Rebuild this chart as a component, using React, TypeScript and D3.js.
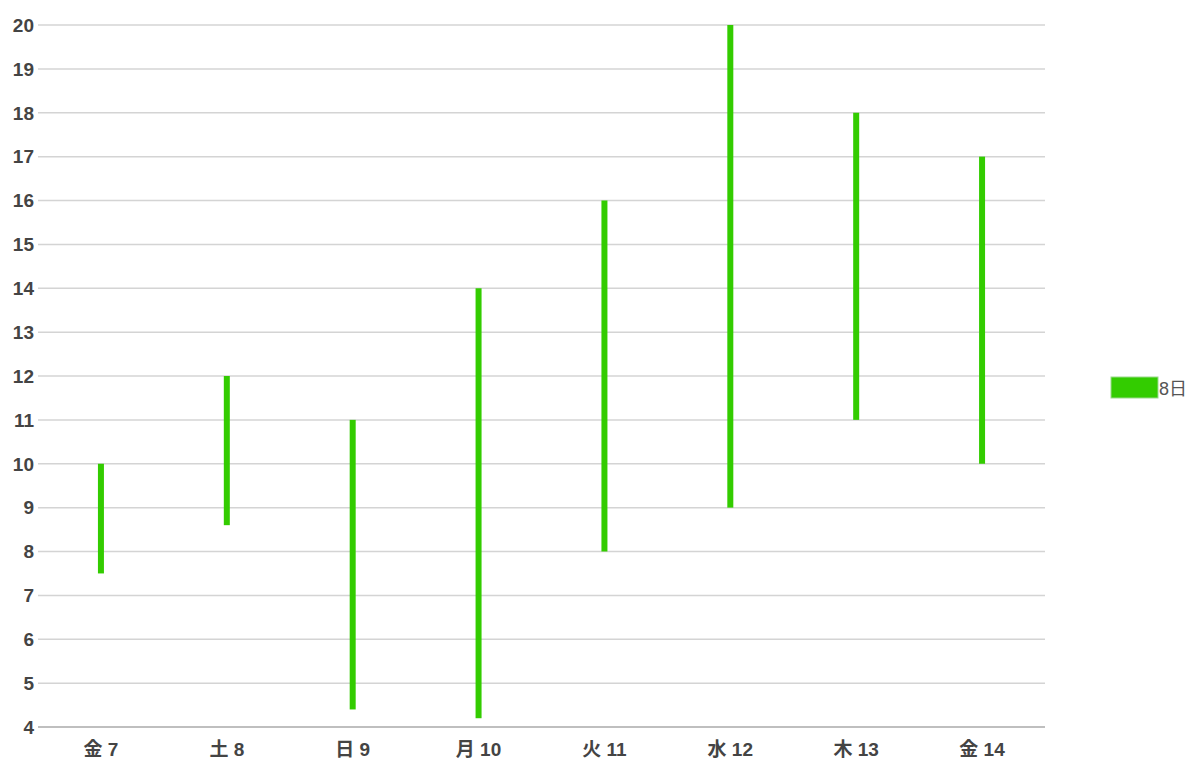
import React from "react";
import * as d3 from "d3";

// Daily temperature ranges (low → high) per day
const days = ["金 7", "土 8", "日 9", "月 10", "火 11", "水 12", "木 13", "金 14"];
const lows = [7.5, 8.6, 4.4, 4.2, 8, 9, 11, 10];
const highs = [10, 12, 11, 14, 16, 20, 18, 17];
const yTicks = [4, 5, 6, 7, 8, 9, 10, 11, 12, 13, 14, 15, 16, 17, 18, 19, 20];
const seriesName = "8日";

const W = 1194;
const H = 760;
const left = 38;
const right = 1045;
const top = 25;
const bottom = 727;
const barColor = "#33cc00";

export default function App() {
  const x = d3.scaleBand<string>().domain(days).range([left, right]);
  const y = d3.scaleLinear().domain([4, 20]).range([bottom, top]);
  const font = "Arial, 'Liberation Sans', 'Noto Sans CJK JP', sans-serif";

  return (
    <svg
      width={W}
      height={H}
      style={{ position: "absolute", left: 0, top: 0, background: "#fff" }}
      fontFamily={font}
    >
      {yTicks.map((t) => (
        <g key={t}>
          <line
            x1={left}
            x2={right}
            y1={y(t)}
            y2={y(t)}
            stroke={t === 4 ? "#aaaaaa" : "#d4d4d4"}
            strokeWidth={1.5}
          />
          <text
            x={34}
            y={y(t)}
            dy="0.36em"
            textAnchor="end"
            fontSize={19}
            fontWeight="bold"
            fill="#444"
          >
            {t}
          </text>
        </g>
      ))}
      {days.map((d, i) => {
        const cx = (x(d) ?? 0) + x.bandwidth() / 2;
        return (
          <g key={d}>
            <rect
              x={cx - 3}
              width={6}
              y={y(highs[i])}
              height={y(lows[i]) - y(highs[i])}
              fill={barColor}
            />
            <text
              x={cx}
              y={756}
              textAnchor="middle"
              fontSize={19}
              fontWeight="bold"
              fill="#444"
            >
              {d}
            </text>
          </g>
        );
      })}
      <rect x={1111} y={377} width={47} height={21} fill={barColor} stroke="#9ad98a" strokeWidth={1} />
      <text x={1159} y={395} fontSize={18} fill="#555">
        {seriesName}
      </text>
    </svg>
  );
}
